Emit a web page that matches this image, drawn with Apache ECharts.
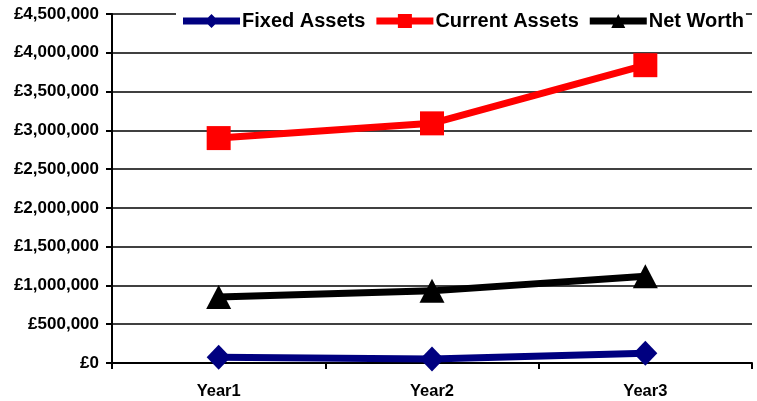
<!DOCTYPE html>
<html>
<head>
<meta charset="utf-8">
<script src="https://cdn.jsdelivr.net/npm/echarts@6/dist/echarts.min.js"></script>
<style>
html,body{margin:0;padding:0;background:#fff;}
#main{width:757px;height:401px;}
</style>
</head>
<body>
<div id="main"></div>
<script>
var categories = ['Year1', 'Year2', 'Year3'];
var fixedAssets = [73000, 50000, 125000];
var currentAssets = [2900000, 3090000, 3840000];
var netWorth = [850000, 930000, 1120000];

var chart = echarts.init(document.getElementById('main'));
var font = 'Arial, "Liberation Sans", sans-serif';
var bar = 'M0,3.5 H57 V10.5 H0 Z ';
var iconDiamond = 'path://' + bar + 'M28.5,0 L35.5,7 L28.5,14 L21.5,7 Z';
var iconSquare = 'path://' + bar + 'M21.5,0 H35.5 V14 H21.5 Z';
var iconTriangle = 'path://' + bar + 'M28.5,0 L35.5,14 L21.5,14 Z';
chart.setOption({
  animation: false,
  backgroundColor: '#fff',
  grid: { left: 112, right: 5, top: 14, bottom: 38, containLabel: false },
  legend: {
    left: 176, top: 11, width: 900,
    backgroundColor: '#fff',
    padding: [0, 2, 2, 7],
    itemWidth: 57, itemHeight: 14, itemGap: 11,
    textStyle: { fontFamily: font, fontWeight: 'bold', fontSize: 20, color: '#000', padding: [0,0,0,-3] },
    data: [
      { name: 'Fixed Assets', icon: iconDiamond },
      { name: 'Current Assets', icon: iconSquare },
      { name: 'Net Worth', icon: iconTriangle }
    ]
  },
  xAxis: {
    type: 'category', data: categories, boundaryGap: true,
    axisLine: { lineStyle: { color: '#000', width: 2 } },
    axisTick: { show: true, length: 6, lineStyle: { color: '#000', width: 2 } },
    axisLabel: { margin: 20, fontFamily: font, fontWeight: 'bold', fontSize: 16.5, color: '#000' }
  },
  yAxis: {
    type: 'value', min: 0, max: 4500000, interval: 500000,
    axisLine: { show: true, lineStyle: { color: '#000', width: 2 } },
    axisTick: { show: true, length: 6, lineStyle: { color: '#000', width: 2 } },
    splitLine: { lineStyle: { color: '#000', width: 1.5 } },
    axisLabel: {
      margin: 13, fontFamily: font, fontWeight: 'bold', fontSize: 17, color: '#000',
      formatter: function (v) { return '£' + v.toLocaleString('en-GB'); }
    }
  },
  series: [
    { name: 'Fixed Assets', type: 'line', data: fixedAssets, color: '#000080',
      symbol: 'diamond', symbolSize: [24, 25], lineStyle: { width: 7, color: '#000080' },
      itemStyle: { color: '#000080' } },
    { name: 'Current Assets', type: 'line', data: currentAssets, color: '#ff0000',
      symbol: 'rect', symbolSize: 24, lineStyle: { width: 7, color: '#ff0000' },
      itemStyle: { color: '#ff0000' } },
    { name: 'Net Worth', type: 'line', data: netWorth, color: '#000',
      symbol: 'triangle', symbolSize: [25, 24], lineStyle: { width: 7, color: '#000' },
      itemStyle: { color: '#000' } }
  ]
});
</script>
</body>
</html>
